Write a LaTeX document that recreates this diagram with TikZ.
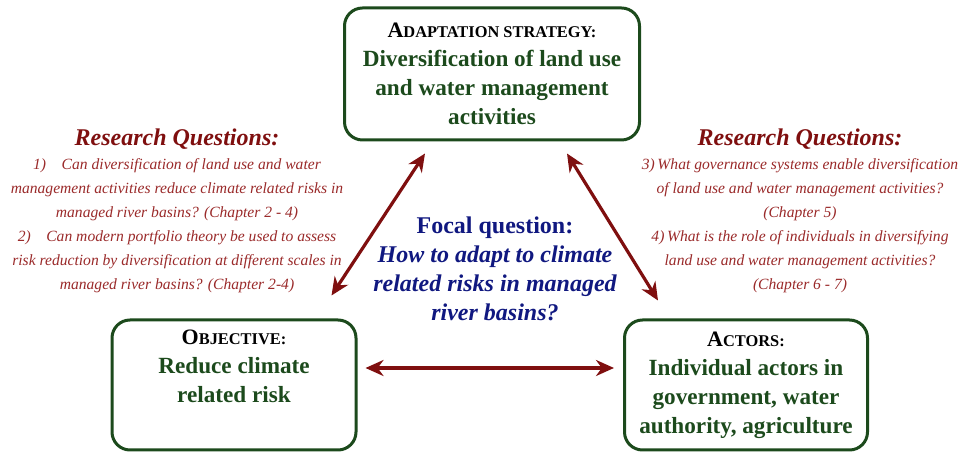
\documentclass[tikz,border=0pt]{standalone}
\usepackage{fontspec}
\setmainfont{Liberation Serif}
\usetikzlibrary{arrows.meta}

\definecolor{boxgreen}{HTML}{1C4A1C}
\definecolor{maroon}{HTML}{7F0F0F}
\definecolor{rqred}{HTML}{9A2A2A}
\definecolor{focalblue}{HTML}{101880}

\newcommand{\fakesc}[2]{\textbf{{\fontsize{11}{14.5}\selectfont #1}{\fontsize{8.2}{10}\selectfont #2}}}

\tikzset{
  box/.style={draw=boxgreen, line width=1.5pt, rounded corners=9pt, align=center,
    font=\fontsize{11.6}{14.5}\selectfont\bfseries, text=boxgreen},
  rq/.style={align=center, text=rqred, font=\fontsize{7.8}{12}\selectfont\itshape},
  link/.style={{Stealth[length=9pt,width=8pt]}-{Stealth[length=9pt,width=8pt]}, line width=1.6pt, draw=maroon}
}

\begin{document}
\begin{tikzpicture}[x=0.5pt, y=0.5pt]
	\useasboundingbox (0,0) rectangle (968,454);
	\node[box, minimum width=147.5pt, minimum height=66pt] (strat) at (492, 380)
		{{\color{black}\fakesc{A}{DAPTATION STRATEGY:}}\\Diversification of land use\\and water management\\activities};
	\node[box, minimum width=122pt, minimum height=65pt] (obj) at (234, 69)
		{{\color{black}\fakesc{O}{BJECTIVE:}}\\Reduce climate\\related risk\\\strut};
	\node[box, minimum width=121.5pt, minimum height=65pt] (act) at (746, 69)
		{{\color{black}\fakesc{A}{CTORS:}}\\Individual actors in\\government, water\\authority, agriculture};
	\node[rq] (rqleft) at (177, 243)
		{{\fontsize{12}{14}\selectfont\bfseries\color{maroon}Research Questions:}\\
		1)\quad Can diversification of land use and water\\
		management activities reduce climate related risks in\\
		managed river basins? (Chapter 2 - 4)\\
		2)\quad Can modern portfolio theory be used to assess\\
		risk reduction by diversification at different scales in\\
		managed river basins? (Chapter 2-4)};
	\node[rq] (rqright) at (800, 243)
		{{\fontsize{12}{14}\selectfont\bfseries\color{maroon}Research Questions:}\\
		3)\,What governance systems enable diversification\\
		of land use and water management activities?\\
		(Chapter 5)\\
		4)\,What is the role of individuals in diversifying\\
		land use and water management activities?\\
		(Chapter 6 - 7)};
	\node[align=center, text=focalblue, font=\fontsize{12}{14.5}\selectfont\bfseries] (focal) at (495, 185)
		{Focal question:\\\itshape How to adapt to climate\\\itshape related risks in managed\\\itshape river basins?};
	\draw[link] ([xshift=-13pt,yshift=11.5pt]obj.north east) -- ([xshift=41pt,yshift=-6pt]strat.south west);
	\draw[link] ([xshift=-37pt,yshift=-6pt]strat.south east) -- ([xshift=17.5pt,yshift=9pt]act.north west);
	\draw[link] ([xshift=4pt,yshift=8.5pt]obj.east) -- ([xshift=-4.5pt,yshift=8.5pt]act.west);
\end{tikzpicture}
\end{document}
